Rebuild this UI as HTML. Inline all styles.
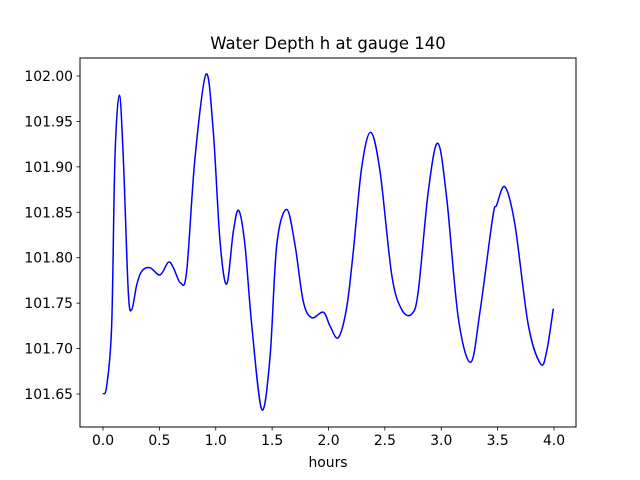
<!DOCTYPE html>
<html><head><meta charset="utf-8"><style>
body{margin:0;background:#fff;}
svg{display:block;font-family:"DejaVu Sans","Liberation Sans",sans-serif;}
</style></head><body>
<svg id="chart" width="640" height="480" viewBox="0 0 640 480" xmlns="http://www.w3.org/2000/svg">
<rect x="0" y="0" width="640" height="480" fill="#fff"/>
<text x="328" y="49" text-anchor="middle" font-size="16.5" fill="#000">Water Depth h at gauge 140</text>
<g id="plot"></g>
<rect x="80" y="58" width="496" height="369" fill="none" stroke="#000" stroke-width="1"/>
<text x="328" y="467" text-anchor="middle" font-size="13.9" fill="#000">hours</text>
</svg>
<script>
const times=[0.0,0.033,0.077,0.106,0.145,0.180,0.224,0.255,0.299,0.343,0.417,0.506,0.579,0.624,0.689,0.742,0.816,0.914,0.978,1.038,1.097,1.156,1.204,1.259,1.319,1.408,1.481,1.541,1.629,1.703,1.776,1.851,1.954,2.013,2.087,2.161,2.220,2.294,2.374,2.457,2.561,2.649,2.738,2.796,2.885,2.969,3.048,3.151,3.261,3.344,3.456,3.492,3.565,3.654,3.772,3.882,3.935,3.994];
const depths=[101.650,101.659,101.726,101.910,101.979,101.910,101.763,101.743,101.770,101.785,101.789,101.781,101.795,101.789,101.772,101.785,101.910,102.002,101.939,101.818,101.771,101.829,101.852,101.814,101.726,101.633,101.690,101.814,101.853,101.814,101.752,101.734,101.740,101.725,101.712,101.745,101.807,101.899,101.938,101.895,101.781,101.743,101.738,101.763,101.873,101.926,101.866,101.734,101.685,101.741,101.844,101.858,101.878,101.836,101.726,101.683,101.697,101.744];
const xTicks=[0.0,0.5,1.0,1.5,2.0,2.5,3.0,3.5,4.0];
const xTickLabels=["0.0","0.5","1.0","1.5","2.0","2.5","3.0","3.5","4.0"];
const yTicks=[101.65,101.70,101.75,101.80,101.85,101.90,101.95,102.00];
const yTickLabels=["101.65","101.70","101.75","101.80","101.85","101.90","101.95","102.00"];

const NS="http://www.w3.org/2000/svg";
function xScale(t){return 103+(t-0)*(554-103)/4;}
function yScale(h){return 394-(h-101.65)*(394-76)/0.35;}
const g=document.getElementById('plot');
function mk(tag,attrs){const e=document.createElementNS(NS,tag);for(const k in attrs)e.setAttribute(k,attrs[k]);return e;}

xTicks.forEach((t,i)=>{
  const x=xScale(t);
  const tk=mk('line',{x1:x,x2:x,y1:427,y2:430.5,stroke:'#000','stroke-width':0.8});
  
  
  g.appendChild(tk);
  const lb=mk('text',{x:x,y:445,'text-anchor':'middle','font-size':13.9,fill:'#000'});
  
  
  lb.textContent=xTickLabels[i];
  g.appendChild(lb);
});
yTicks.forEach((v,i)=>{
  const y=yScale(v);
  const tk=mk('line',{x1:76.5,x2:80,y1:y,y2:y,stroke:'#000','stroke-width':0.8});
  
  
  g.appendChild(tk);
  const lb=mk('text',{x:73,y:y+5,'text-anchor':'end','font-size':13.9,fill:'#000'});
  
  
  lb.textContent=yTickLabels[i];
  g.appendChild(lb);
});

const pts=times.map((t,i)=>[xScale(t),yScale(depths[i])]);
let d='M'+pts[0][0]+','+pts[0][1];
for(let i=0;i<pts.length-1;i++){
  const p0=pts[Math.max(0,i-1)],p1=pts[i],p2=pts[i+1],p3=pts[Math.min(pts.length-1,i+2)];
  const c1x=p1[0]+(p2[0]-p0[0])/6,c1y=p1[1]+(p2[1]-p0[1])/6;
  const c2x=p2[0]-(p3[0]-p1[0])/6,c2y=p2[1]-(p3[1]-p1[1])/6;
  d+=' C'+c1x+','+c1y+' '+c2x+','+c2y+' '+p2[0]+','+p2[1];
}
const line=mk('path',{d:d,fill:'none',stroke:'#0000ff','stroke-width':1.5,'stroke-linejoin':'round'});


g.appendChild(line);
</script>
</body></html>
